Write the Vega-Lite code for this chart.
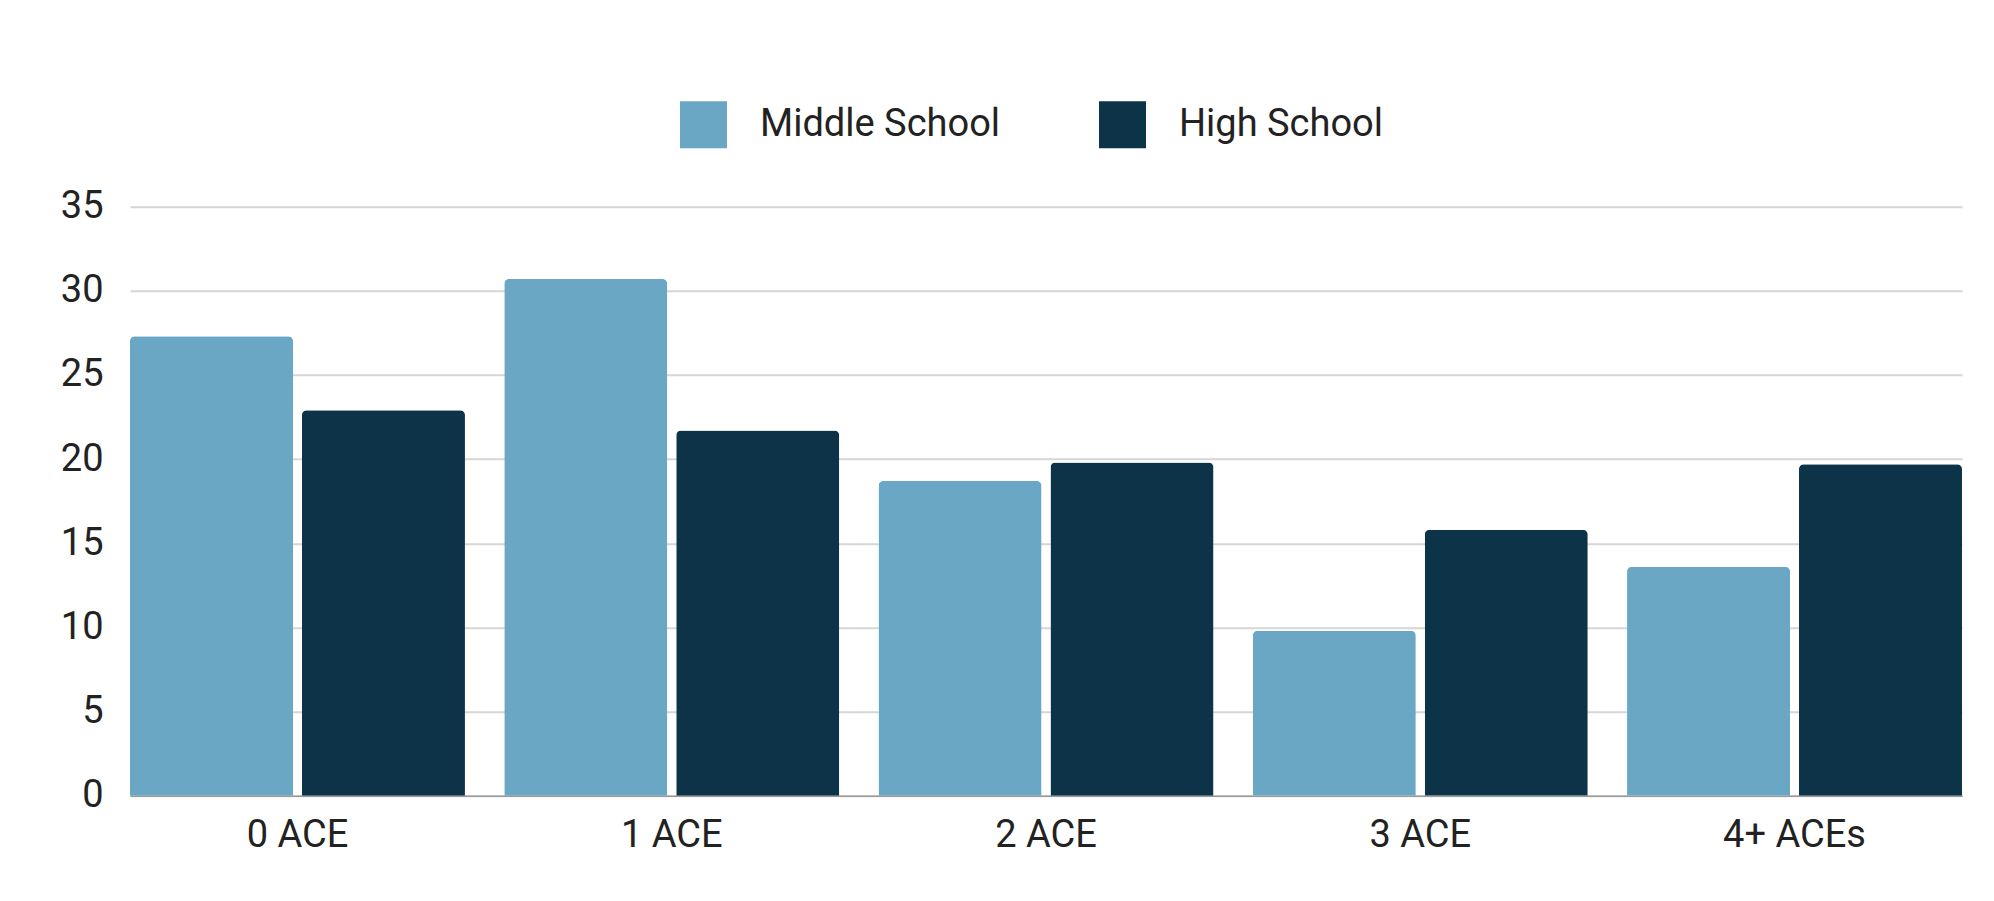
{
  "$schema": "https://vega.github.io/schema/vega-lite/v6.json",
  "width": 1832,
  "height": 589,
  "autosize": {"type": "none"},
  "padding": {"left": 130, "top": 206.7, "right": 32, "bottom": 105.3},
  "background": "white",
  "data": {
    "values": [
      {"category": "0 ACE", "school": "Middle School", "value": 27.3},
      {"category": "0 ACE", "school": "High School", "value": 22.9},
      {"category": "1 ACE", "school": "Middle School", "value": 30.7},
      {"category": "1 ACE", "school": "High School", "value": 21.7},
      {"category": "2 ACE", "school": "Middle School", "value": 18.7},
      {"category": "2 ACE", "school": "High School", "value": 19.8},
      {"category": "3 ACE", "school": "Middle School", "value": 9.8},
      {"category": "3 ACE", "school": "High School", "value": 15.8},
      {"category": "4+ ACEs", "school": "Middle School", "value": 13.6},
      {"category": "4+ ACEs", "school": "High School", "value": 19.7}
    ]
  },
  "mark": {"type": "bar", "cornerRadiusTopLeft": 5, "cornerRadiusTopRight": 5},
  "encoding": {
    "x": {
      "field": "category",
      "type": "nominal",
      "sort": ["0 ACE", "1 ACE", "2 ACE", "3 ACE", "4+ ACEs"],
      "scale": {"paddingInner": 0.105, "paddingOuter": 0},
      "title": null,
      "axis": {
        "labelAngle": 0,
        "labelFontSize": 38,
        "labelColor": "#222222",
        "labelPadding": 21,
        "ticks": false,
        "domain": true,
        "domainColor": "#9a9a9a",
        "domainWidth": 1.5,
        "grid": false
      }
    },
    "xOffset": {
      "field": "school",
      "type": "nominal",
      "sort": ["Middle School", "High School"],
      "scale": {"paddingInner": 0.052, "paddingOuter": 0}
    },
    "y": {
      "field": "value",
      "type": "quantitative",
      "scale": {"domain": [0, 35], "nice": false},
      "title": null,
      "axis": {
        "values": [0, 5, 10, 15, 20, 25, 30, 35],
        "labelFontSize": 38,
        "labelColor": "#222222",
        "labelPadding": 27,
        "ticks": false,
        "domain": false,
        "grid": true,
        "gridColor": "#d6d6d6",
        "gridWidth": 2
      }
    },
    "color": {
      "field": "school",
      "type": "nominal",
      "sort": ["Middle School", "High School"],
      "scale": {"domain": ["Middle School", "High School"], "range": ["#6aa7c5", "#0d3349"]},
      "legend": {
        "title": null,
        "orient": "none",
        "legendX": 550,
        "legendY": -105.5,
        "direction": "horizontal",
        "symbolType": "square",
        "symbolSize": 2209,
        "symbolStrokeWidth": 0,
        "symbolOpacity": 1,
        "labelFontSize": 38,
        "labelColor": "#222222",
        "labelOffset": 33,
        "columnPadding": 98,
        "padding": 0,
        "labelLimit": 500
      }
    }
  },
  "config": {"font": "Roboto", "view": {"stroke": null}}
}
